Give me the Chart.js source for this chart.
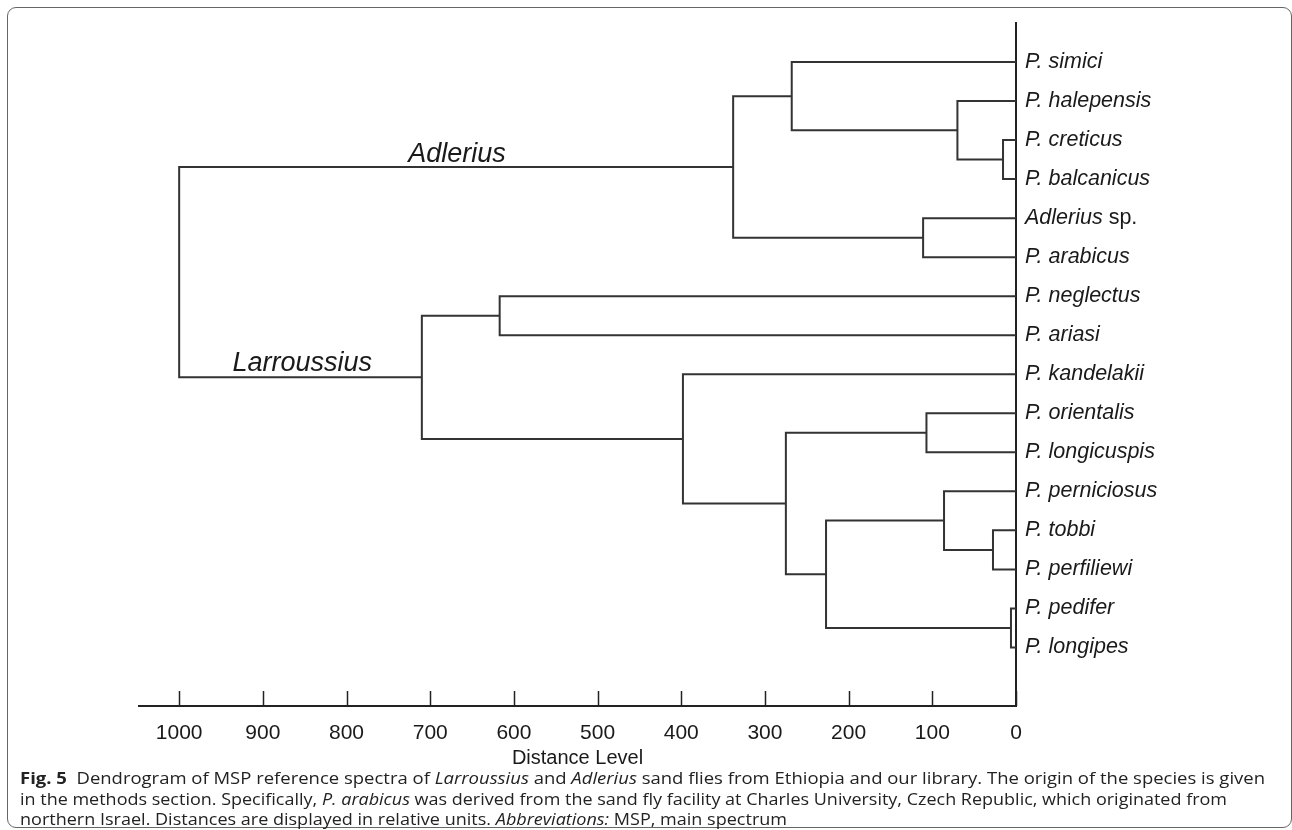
<!DOCTYPE html>
<html>
<head>
<meta charset="utf-8">
<script src="https://cdn.jsdelivr.net/npm/chart.js@4.4.1/dist/chart.umd.min.js"></script>
<style>
  html, body { margin: 0; padding: 0; background: #fff; }
  body { width: 1292px; height: 830px; position: relative; overflow: hidden; }
  #frame { position: absolute; left: 7px; top: 7px; width: 1285px; height: 821px;
           border: 1.5px solid #666; border-radius: 9px; box-sizing: border-box; }
  #chart_canvas { position: absolute; left: 0; top: 0; }
  #caption { position: absolute; left: 20px; top: 768px; font-family: "Open Sans", sans-serif;
             font-size: 15.5px; color: #222; }
  #caption div { height: 20.5px; line-height: 20.5px; }
  #caption .line { display: inline-block; white-space: nowrap; transform-origin: 0 50%; }
</style>
</head>
<body>
<div id="frame"></div>
<canvas id="chart_canvas" width="1292" height="770"></canvas>
<div id="caption">
  <div><span class="line" data-w="1245"><b>Fig. 5</b>&nbsp; Dendrogram of MSP reference spectra of <i>Larroussius</i> and <i>Adlerius</i> sand flies from Ethiopia and our library. The origin of the species is given</span></div>
  <div><span class="line" data-w="1207">in the methods section. Specifically, <i>P. arabicus</i> was derived from the sand fly facility at Charles University, Czech Republic, which originated from</span></div>
  <div><span class="line" data-w="767">northern Israel. Distances are displayed in relative units. <i>Abbreviations:</i> MSP, main spectrum</span></div>
</div>
<script>
// leaves, top to bottom
const species = [
  "P. simici", "P. halepensis", "P. creticus", "P. balcanicus", "Adlerius sp.", "P. arabicus",
  "P. neglectus", "P. ariasi", "P. kandelakii", "P. orientalis", "P. longicuspis",
  "P. perniciosus", "P. tobbi", "P. perfiliewi", "P. pedifer", "P. longipes"
];
// merges: node 16 + k joins mergeA[k] and mergeB[k] at mergeDistance[k]
const mergeA = [2, 1, 0, 4, 18, 6, 9, 12, 11, 14, 24, 22, 8, 21, 20];
const mergeB = [3, 16, 17, 5, 19, 7, 10, 13, 23, 15, 25, 26, 27, 28, 29];
const mergeDistance = [15.5, 70, 268, 111, 338, 617, 107, 27.5, 86, 6, 227, 275, 398, 710, 1000];

const distanceTicks = [0, 100, 200, 300, 400, 500, 600, 700, 800, 900, 1000];

const cladeNames = ["Adlerius", "Larroussius"];
const cladeDistance = [668, 853];
const cladeLevel = [2.55, 7.92];

const FONT = '"Liberation Sans", Arial, sans-serif';
const INK = "#1a1a1a";

// node heights / vertical positions
const height = species.map(() => 0);
const level = species.map((s, i) => i);
mergeA.forEach((a, k) => {
  const b = mergeB[k];
  height.push(mergeDistance[k]);
  level.push((level[a] + level[b]) / 2);
});

const datasets = mergeA.map((a, k) => {
  const b = mergeB[k];
  const h = mergeDistance[k];
  return {
    data: [
      { x: height[a], y: level[a] },
      { x: h, y: level[a] },
      { x: h, y: level[b] },
      { x: height[b], y: level[b] }
    ],
    borderColor: "#333",
    borderWidth: 2,
    pointRadius: 0,
    tension: 0,
    fill: false
  };
});

const labelsPlugin = {
  id: "labels",
  afterDraw(chart) {
    const ctx = chart.ctx;
    const xs = chart.scales.x;
    const ys = chart.scales.y;
    const area = chart.chartArea;
    ctx.save();

    // inward tick marks on the distance axis
    ctx.strokeStyle = "#222";
    ctx.lineWidth = 1.5;
    xs.ticks.forEach(t => {
      const px = Math.round(xs.getPixelForValue(t.value)) + 0.5;
      ctx.beginPath();
      ctx.moveTo(px, area.bottom);
      ctx.lineTo(px, area.bottom - 15);
      ctx.stroke();
    });

    // species names
    ctx.fillStyle = INK;
    ctx.textBaseline = "middle";
    ctx.textAlign = "left";
    species.forEach((name, i) => {
      const y = ys.getPixelForValue(i);
      let x = area.right + 9;
      if (name.endsWith(" sp.")) {
        const genus = name.slice(0, -4);
        ctx.font = "italic 21.5px " + FONT;
        ctx.fillText(genus, x, y);
        x += ctx.measureText(genus).width;
        ctx.font = "21.5px " + FONT;
        ctx.fillText(" sp.", x, y);
      } else {
        ctx.font = "italic 21.5px " + FONT;
        ctx.fillText(name, x, y);
      }
    });

    // clade names
    ctx.font = "italic 27px " + FONT;
    ctx.textAlign = "center";
    ctx.textBaseline = "alphabetic";
    cladeNames.forEach((name, i) => {
      ctx.fillText(name, xs.getPixelForValue(cladeDistance[i]), ys.getPixelForValue(cladeLevel[i]));
    });
    ctx.restore();
  }
};

const context = document.getElementById("chart_canvas").getContext("2d");
const chart = new Chart(context, {
  type: "line",
  data: { datasets: datasets },
  options: {
    responsive: false,
    animation: false,
    devicePixelRatio: 1,
    layout: { padding: { left: 139, top: 23, right: 0, bottom: 0 } },
    plugins: { legend: { display: false }, tooltip: { enabled: false } },
    scales: {
      x: {
        type: "linear",
        reverse: true,
        min: 0,
        max: 1048,
        afterBuildTicks: s => { s.ticks = distanceTicks.map(v => ({ value: v })); },
        afterFit: s => { s.height = 64; },
        grid: { display: false, drawTicks: false },
        border: { display: true, color: "#222", width: 2 },
        ticks: {
          color: INK, font: { family: FONT, size: 21 }, padding: 15, maxRotation: 0, autoSkip: false,
          callback: v => String(v)
        },
        title: { display: true, text: "Distance Level", color: INK, font: { family: FONT, size: 20 }, padding: 0 }
      },
      y: {
        type: "linear",
        position: "right",
        reverse: true,
        min: -1,
        max: 16.5,
        afterFit: s => { s.width = 276; },
        grid: { display: false, drawTicks: false },
        border: { display: true, color: "#222", width: 2 },
        ticks: { display: false }
      }
    }
  },
  plugins: [labelsPlugin]
});

// squeeze caption lines to the widths in the figure
document.querySelectorAll("#caption .line").forEach(el => {
  const w = el.getBoundingClientRect().width;
  el.style.transform = "scaleX(" + (Number(el.dataset.w) / w) + ")";
});
</script>
</body>
</html>
